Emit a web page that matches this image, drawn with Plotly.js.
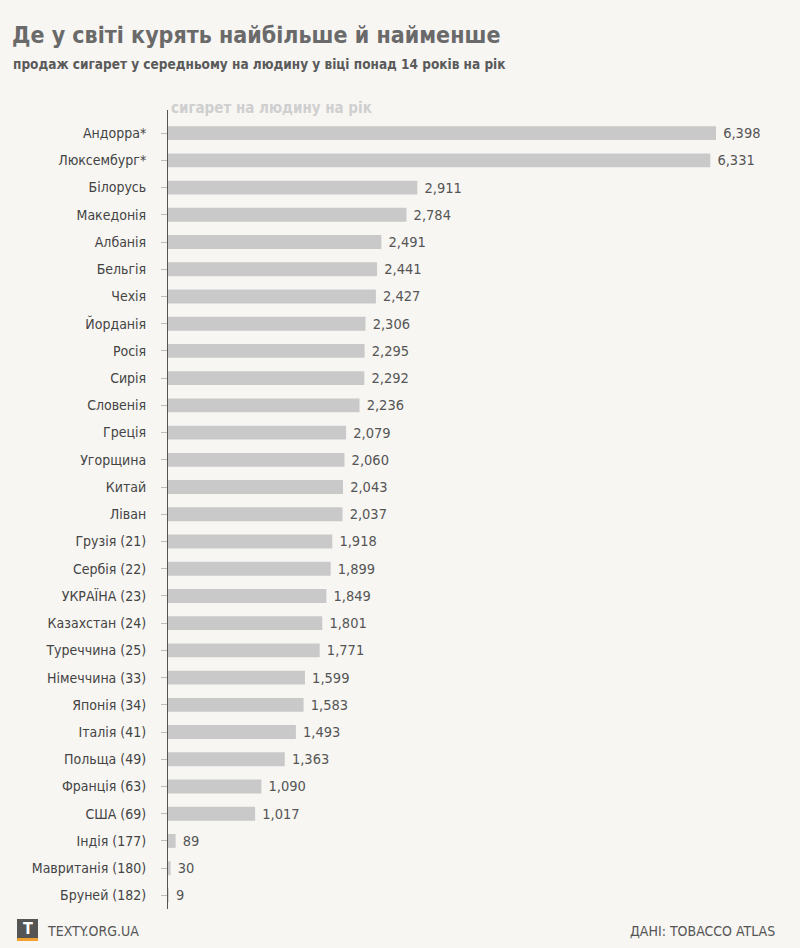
<!DOCTYPE html>
<html>
<head>
<meta charset="utf-8">
<script src="https://cdn.plot.ly/plotly-3.0.1.min.js"></script>
<style>html,body{margin:0;padding:0;background:#f7f6f3;}</style>
</head>
<body>
<div id="chart" style="width:800px;height:948px;"></div>
<script>
const countries = ["Андорра*","Люксембург*","Білорусь","Македонія","Албанія","Бельгія","Чехія","Йорданія","Росія","Сирія","Словенія","Греція","Угорщина","Китай","Ліван","Грузія (21)","Сербія (22)","УКРАЇНА (23)","Казахстан (24)","Туреччина (25)","Німеччина (33)","Японія (34)","Італія (41)","Польща (49)","Франція (63)","США (69)","Індія (177)","Мавританія (180)","Бруней (182)"];
const cigarettes = [6398,6331,2911,2784,2491,2441,2427,2306,2295,2292,2236,2079,2060,2043,2037,1918,1899,1849,1801,1771,1599,1583,1493,1363,1090,1017,89,30,9];

const titleText = "Де у світі курять найбільше й найменше";
const subtitleText = "продаж сигарет у середньому на людину у віці понад 14 років на рік";
const axisTitleText = "сигарет на людину на рік";
const footerLeft = "TEXTY.ORG.UA";
const footerRight = "ДАНІ: TOBACCO ATLAS";

const W = 800, H = 948;
const M = {l:168, r:20, t:110, b:39};
const pw = W - M.l - M.r, ph = H - M.t - M.b;
const px = x => (x - M.l) / pw;
const py = y => (H - M.b - y) / ph;

const FONT = "'DejaVu Sans Condensed', 'Liberation Sans', sans-serif";

const trace = {
  type: 'bar',
  orientation: 'h',
  x: cigarettes,
  y: countries,
  marker: {color: '#c9c9c9'},
  texttemplate: '\u00a0%{x:,}',
  textposition: 'outside',
  constraintext: 'none',
  textfont: {family: FONT, size: 14.5, color: '#555555'},
  cliponaxis: false,
  hoverinfo: 'skip'
};

const layout = {
  width: W, height: H,
  margin: M,
  paper_bgcolor: '#f7f6f3',
  plot_bgcolor: '#f7f6f3',
  showlegend: false,
  bargap: 0.49,
  font: {family: FONT, color: '#444'},
  xaxis: {range: [0, 7145], showgrid: false, zeroline: false, showticklabels: false, showline: false, ticks: '', fixedrange: true},
  yaxis: {
    type: 'category',
    range: [28.5, -0.85],
    showline: true, linecolor: '#555', linewidth: 1,
    ticks: 'outside', ticklen: 6, tickcolor: '#bbbbbb', tickwidth: 1,
    ticklabelstandoff: 12,
    tickfont: {family: FONT, size: 14, color: '#444'},
    showgrid: false, zeroline: false, fixedrange: true
  },
  shapes: [
    {type: 'rect', xref: 'paper', yref: 'paper', x0: px(17), x1: px(38), y0: py(938), y1: py(919), fillcolor: '#555555', line: {width: 0}, layer: 'above'},
    {type: 'rect', xref: 'paper', yref: 'paper', x0: px(17), x1: px(38), y0: py(941), y1: py(938), fillcolor: '#f0a030', line: {width: 0}, layer: 'above'}
  ],
  annotations: [
    {text: '<b>' + titleText + '</b>', xref: 'paper', yref: 'paper', x: px(10), y: py(35), xanchor: 'left', yanchor: 'middle', showarrow: false, font: {family: FONT, size: 23, color: '#6a6a6a'}},
    {text: '<b>' + subtitleText + '</b>', xref: 'paper', yref: 'paper', x: px(11), y: py(64), xanchor: 'left', yanchor: 'middle', showarrow: false, font: {family: FONT, size: 13.5, color: '#5a5a5a'}},
    {text: '<b>' + axisTitleText + '</b>', xref: 'paper', yref: 'paper', x: px(169), y: py(108), xanchor: 'left', yanchor: 'middle', showarrow: false, font: {family: FONT, size: 15, color: '#cfcfcf'}},
    {text: '<b>T</b>', xref: 'paper', yref: 'paper', x: px(27.5), y: py(928.5), xanchor: 'center', yanchor: 'middle', showarrow: false, font: {family: FONT, size: 16, color: '#ffffff'}},
    {text: footerLeft, xref: 'paper', yref: 'paper', x: px(45), y: py(931), xanchor: 'left', yanchor: 'middle', showarrow: false, font: {family: FONT, size: 14, color: '#555555'}},
    {text: footerRight, xref: 'paper', yref: 'paper', x: px(777), y: py(931), xanchor: 'right', yanchor: 'middle', showarrow: false, font: {family: FONT, size: 14, color: '#555555'}}
  ]
};

Plotly.newPlot('chart', [trace], layout, {displayModeBar: false, staticPlot: true});
</script>
</body>
</html>
